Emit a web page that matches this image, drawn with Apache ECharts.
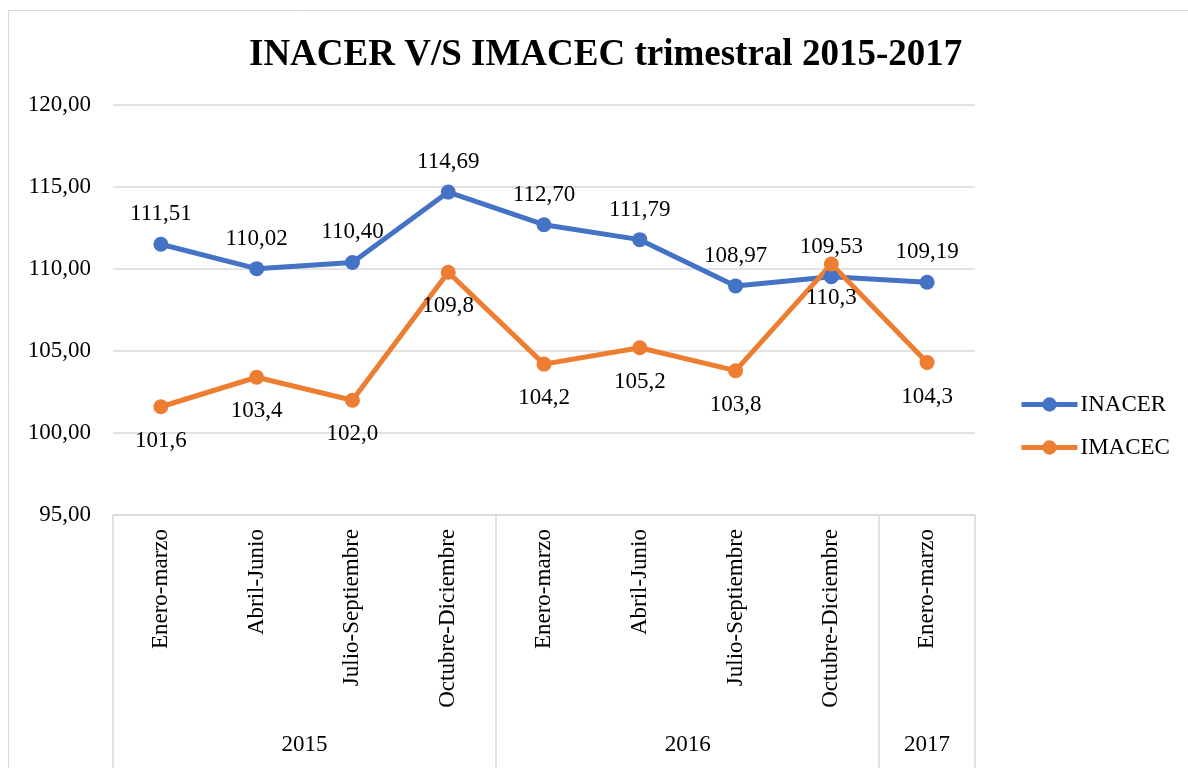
<!DOCTYPE html>
<html>
<head>
<meta charset="utf-8">
<script src="https://cdn.jsdelivr.net/npm/echarts@6/dist/echarts.min.js"></script>
<style>
  html, body { margin: 0; padding: 0; background: #fff; }
  #chart { width: 1188px; height: 768px; }
</style>
</head>
<body>
<div id="chart"></div>
<script>
// datos del gráfico
const quarters = ['Enero-marzo', 'Abril-Junio', 'Julio-Septiembre', 'Octubre-Diciembre',
                  'Enero-marzo', 'Abril-Junio', 'Julio-Septiembre', 'Octubre-Diciembre',
                  'Enero-marzo'];
const years = ['2015', '2016', '2017'];
const quartersPerYear = [4, 4, 1];
const inacer = [111.51, 110.02, 110.40, 114.69, 112.70, 111.79, 108.97, 109.53, 109.19];
const imacec = [101.6, 103.4, 102.0, 109.8, 104.2, 105.2, 103.8, 110.3, 104.3];

const FONT = '"Liberation Serif", "Times New Roman", serif';
const GRID_COLOR = '#d9d9d9';

// límites y centros de cada año (en unidades de categoría)
const yearBounds = [0];
quartersPerYear.forEach(n => yearBounds.push(yearBounds[yearBounds.length - 1] + n));
const yearCenters = years.map((y, i) => (yearBounds[i] + yearBounds[i + 1]) / 2);

const fmt = (v, d) => v.toFixed(d).replace('.', ',');

const chart = echarts.init(document.getElementById('chart'));
chart.setOption({
  animation: false,
  title: {
    text: 'INACER V/S IMACEC trimestral 2015-2017',
    left: 244,
    top: 32,
    textStyle: { fontFamily: FONT, fontSize: 37, fontWeight: 'bold', color: '#000' }
  },
  graphic: [{
    type: 'rect',
    shape: { x: 8.5, y: 10.5, width: 1300, height: 900 },
    style: { fill: 'none', stroke: GRID_COLOR, lineWidth: 1 },
    silent: true
  }],
  legend: {
    orient: 'vertical',
    left: 1014,
    top: 388,
    itemWidth: 56,
    itemHeight: 18,
    itemGap: 20,
    lineStyle: { width: 5 },
    textStyle: { fontFamily: FONT, fontSize: 23, color: '#000', padding: [0, 0, 0, -2] },
    data: ['INACER', 'IMACEC']
  },
  grid: { left: 113, right: 213, top: 105, bottom: 253 },
  xAxis: [{
    type: 'category',
    data: quarters,
    axisLine: { lineStyle: { color: GRID_COLOR, width: 1.5 } },
    axisTick: { show: false },
    axisLabel: {
      rotate: 90,
      margin: 14,
      interval: 0,
      fontFamily: FONT,
      fontSize: 23,
      color: '#000'
    }
  }, {
    type: 'value',
    min: 0,
    max: quarters.length,
    position: 'bottom',
    offset: 253,
    axisLine: { show: false },
    splitLine: { show: false },
    axisTick: {
      customValues: yearBounds,
      inside: true,
      length: 253,
      lineStyle: { color: GRID_COLOR, width: 1.5 }
    },
    axisLabel: {
      customValues: yearCenters,
      inside: true,
      margin: 12,
      fontFamily: FONT,
      fontSize: 23,
      color: '#000',
      formatter: v => years[yearCenters.indexOf(v)]
    }
  }],
  yAxis: {
    type: 'value',
    min: 95,
    max: 120,
    interval: 5,
    axisLine: { show: false },
    axisTick: { show: false },
    splitLine: { lineStyle: { color: GRID_COLOR, width: 1.5 } },
    axisLabel: {
      margin: 22,
      fontFamily: FONT,
      fontSize: 23,
      color: '#000',
      formatter: v => fmt(v, 2)
    }
  },
  series: [{
    name: 'INACER',
    type: 'line',
    data: inacer,
    symbol: 'circle',
    symbolSize: 15,
    color: '#4472C4',
    lineStyle: { width: 5, color: '#4472C4' },
    label: {
      show: true,
      position: 'top',
      distance: 11,
      fontFamily: FONT,
      fontSize: 23,
      color: '#000',
      formatter: p => fmt(p.value, 2)
    }
  }, {
    name: 'IMACEC',
    type: 'line',
    data: imacec,
    symbol: 'circle',
    symbolSize: 15,
    color: '#ED7D31',
    lineStyle: { width: 5, color: '#ED7D31' },
    label: {
      show: true,
      position: 'bottom',
      distance: 15,
      fontFamily: FONT,
      fontSize: 23,
      color: '#000',
      formatter: p => fmt(p.value, 1)
    }
  }]
});
</script>
</body>
</html>
